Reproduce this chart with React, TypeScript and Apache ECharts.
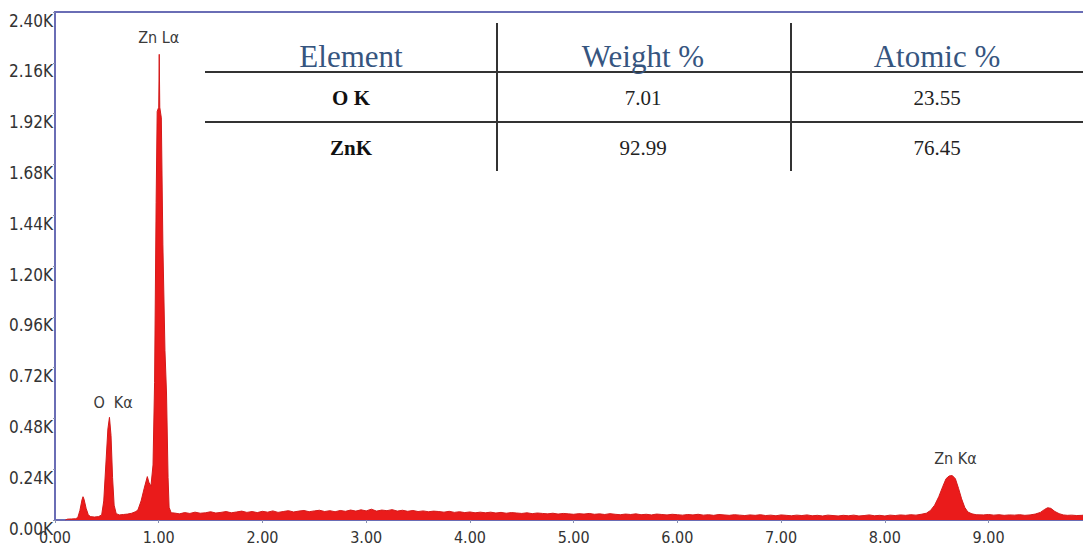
import React, { useEffect, useRef } from "react";
import * as echarts from "echarts";

// ---- Data ----
// [energy keV, counts]
const lowEnergySpectrum: [number, number][] = [
  [0.1, 0], [0.12, 4], [0.16, 5], [0.2, 6], [0.22, 12], [0.24, 45], [0.26, 95], [0.27, 110], [0.28, 98],
  [0.3, 55], [0.32, 26], [0.34, 16], [0.38, 14], [0.42, 16], [0.45, 24], [0.47, 90], [0.49, 260],
  [0.51, 430], [0.525, 485], [0.54, 400], [0.555, 200], [0.57, 70], [0.59, 30], [0.62, 24], [0.66, 26],
  [0.7, 28], [0.74, 32], [0.78, 40], [0.8, 48], [0.83, 90], [0.86, 150], [0.89, 205], [0.905, 178],
  [0.925, 160], [0.945, 260], [0.96, 650], [0.975, 1500], [0.985, 1930], [1.0, 1950], [1.005, 2200],
  [1.01, 1950], [1.025, 1900], [1.04, 1300], [1.06, 800], [1.075, 600], [1.09, 200], [1.1, 60], [1.12, 34],
];

const backgroundSpectrum: [number, number][] = [
  [1.15, 33], [1.2, 29], [1.25, 35], [1.3, 31], [1.35, 37], [1.4, 32], [1.45, 34], [1.5, 39], [1.55, 33],
  [1.6, 36], [1.65, 40], [1.7, 34], [1.75, 38], [1.8, 42], [1.85, 36], [1.9, 40], [1.95, 35], [2.0, 41],
  [2.05, 37], [2.1, 43], [2.15, 36], [2.2, 40], [2.25, 44], [2.3, 38], [2.35, 42], [2.4, 45], [2.45, 39],
  [2.5, 43], [2.55, 46], [2.6, 40], [2.65, 44], [2.7, 39], [2.75, 45], [2.8, 41], [2.85, 47], [2.9, 42],
  [2.95, 48], [3.0, 43], [3.05, 51], [3.1, 42], [3.15, 47], [3.2, 44], [3.25, 49], [3.3, 42], [3.35, 46],
  [3.4, 41], [3.45, 45], [3.5, 40], [3.55, 43], [3.6, 39], [3.65, 42], [3.7, 40], [3.75, 37], [3.8, 41],
  [3.85, 36], [3.9, 39], [3.95, 35], [4.0, 38], [4.05, 34], [4.1, 37], [4.15, 34], [4.2, 37], [4.25, 33],
  [4.3, 36], [4.35, 32], [4.4, 35], [4.45, 33], [4.5, 31], [4.55, 34], [4.6, 30], [4.65, 33], [4.7, 31],
  [4.75, 29], [4.8, 32], [4.85, 28], [4.9, 31], [4.95, 29], [5.0, 27], [5.05, 30], [5.1, 28], [5.15, 31],
  [5.2, 27], [5.25, 29], [5.3, 26], [5.35, 30], [5.4, 27], [5.45, 25], [5.5, 28], [5.55, 26], [5.6, 29],
  [5.65, 25], [5.7, 27], [5.75, 24], [5.8, 28], [5.85, 26], [5.9, 24], [5.95, 27], [6.0, 25], [6.05, 23],
  [6.1, 26], [6.15, 24], [6.2, 27], [6.25, 23], [6.3, 25], [6.35, 22], [6.4, 26], [6.45, 24], [6.5, 22],
  [6.55, 25], [6.6, 23], [6.65, 21], [6.7, 24], [6.75, 22], [6.8, 25], [6.85, 21], [6.9, 23], [6.95, 20],
  [7.0, 24], [7.05, 22], [7.1, 20], [7.15, 23], [7.2, 21], [7.25, 24], [7.3, 20], [7.35, 22], [7.4, 19],
  [7.45, 23], [7.5, 21], [7.55, 19], [7.6, 22], [7.65, 20], [7.7, 23], [7.75, 19], [7.8, 21], [7.85, 24],
  [7.9, 20], [7.95, 22], [8.0, 19], [8.05, 23], [8.1, 21], [8.15, 24], [8.2, 22], [8.25, 25], [8.3, 23],
  [8.35, 27], [8.4, 32],
];

const highEnergySpectrum: [number, number][] = [
  [8.44, 45], [8.48, 70], [8.52, 110], [8.56, 160], [8.59, 195], [8.62, 208], [8.65, 210], [8.68, 195],
  [8.71, 150], [8.74, 100], [8.77, 60], [8.8, 38], [8.84, 29], [8.88, 25], [8.95, 24], [9.0, 26],
  [9.05, 23], [9.1, 25], [9.15, 22], [9.2, 24], [9.25, 23], [9.3, 25], [9.35, 22], [9.4, 24], [9.45, 28],
  [9.5, 36], [9.54, 50], [9.57, 58], [9.6, 55], [9.64, 40], [9.68, 30], [9.72, 24], [9.76, 22], [9.8, 23],
  [9.85, 21], [9.9, 22], [9.92, 23],
];

const peakLabels = ["Zn Lα", "O  Kα", "Zn Kα"];
const peakLabelCoords: [number, number][] = [[1.0, 2280], [0.56, 555], [8.68, 292]];

const xTicks = { min: 0, max: 9.92, interval: 1 };
const yTicks = { min: 0, max: 2400, interval: 240 };

const tableHeaders = ["Element", "Weight %", "Atomic %"];
const tableElements = ["O K", "ZnK"];
const weightPct = ["7.01", "92.99"];
const atomicPct = ["23.55", "76.45"];

const spectrum = [...lowEnergySpectrum, ...backgroundSpectrum, ...highEnergySpectrum];

const axisFont = "'Liberation Sans Narrow','DejaVu Sans Condensed','Liberation Sans',Arial,sans-serif";
const serifFont = "'Liberation Serif','Times New Roman',serif";
const frameColor = "#6a6db5";

function buildTable(): any[] {
  const colCenters = [351, 643, 937];
  const rowY = [98, 148];
  const els: any[] = [];
  const lineStyle = { stroke: "#333", lineWidth: 2 };
  els.push({ type: "line", shape: { x1: 205, y1: 72, x2: 1083, y2: 72 }, style: lineStyle, silent: true });
  els.push({ type: "line", shape: { x1: 205, y1: 122, x2: 1083, y2: 122 }, style: lineStyle, silent: true });
  els.push({ type: "line", shape: { x1: 497, y1: 23, x2: 497, y2: 171 }, style: lineStyle, silent: true });
  els.push({ type: "line", shape: { x1: 791, y1: 23, x2: 791, y2: 171 }, style: lineStyle, silent: true });
  tableHeaders.forEach((h, i) => {
    els.push({
      type: "text", x: colCenters[i], y: 56, silent: true,
      style: { text: h, fill: "#36557f", font: `31px ${serifFont}`, align: "center", verticalAlign: "middle" },
    });
  });
  tableElements.forEach((e, r) => {
    els.push({
      type: "text", x: colCenters[0], y: rowY[r], silent: true,
      style: { text: e, fill: "#111", font: `bold 21px ${serifFont}`, align: "center", verticalAlign: "middle" },
    });
    els.push({
      type: "text", x: colCenters[1], y: rowY[r], silent: true,
      style: { text: weightPct[r], fill: "#222", font: `21px ${serifFont}`, align: "center", verticalAlign: "middle" },
    });
    els.push({
      type: "text", x: colCenters[2], y: rowY[r], silent: true,
      style: { text: atomicPct[r], fill: "#222", font: `21px ${serifFont}`, align: "center", verticalAlign: "middle" },
    });
  });
  return els;
}

export default function App() {
  const ref = useRef<HTMLDivElement>(null);
  useEffect(() => {
    const chart = echarts.init(ref.current!, null, { renderer: "svg" });
    const option: any = {
      animation: false,
      backgroundColor: "#ffffff",
      grid: {
        left: 55, top: 12, width: 1029, bottom: 28,
        show: true, borderColor: frameColor, borderWidth: 2, backgroundColor: "transparent",
        outerBoundsMode: "none", containLabel: false,
      },
      xAxis: {
        type: "value",
        min: xTicks.min, max: xTicks.max, interval: xTicks.interval,
        axisLine: { show: true, lineStyle: { color: frameColor, width: 2 } },
        axisTick: { show: true, length: 3, lineStyle: { color: "#8890b0" } },
        splitLine: { show: false },
        axisLabel: {
          color: "#333", fontSize: 16, fontFamily: axisFont, margin: 9,
          formatter: (v: number) => (Math.abs(v - Math.round(v)) < 1e-6 ? v.toFixed(2) : ""),
        },
      },
      yAxis: {
        type: "value",
        min: yTicks.min, max: yTicks.max, interval: yTicks.interval,
        axisLine: { show: true, lineStyle: { color: frameColor, width: 2 } },
        axisTick: { show: true, length: 2, lineStyle: { color: "#8890b0" } },
        splitLine: { show: false },
        axisLabel: {
          color: "#333", fontSize: 17, fontFamily: axisFont, margin: 2, verticalAlign: "top",
          formatter: (v: number) => (v / 1000).toFixed(2) + "K",
        },
      },
      series: [
        {
          type: "line",
          data: spectrum,
          showSymbol: false,
          symbol: "none",
          silent: true,
          lineStyle: { color: "#d41a1a", width: 1 },
          areaStyle: { color: "#ea1b1b", opacity: 1 },
          markPoint: {
            symbol: "circle",
            symbolSize: 1,
            itemStyle: { color: "transparent" },
            label: {
              show: true, position: "inside", formatter: "{b}",
              color: "#3a3a3a", fontSize: 16, fontFamily: axisFont,
            },
            data: peakLabels.map((name, i) => ({ name, coord: peakLabelCoords[i] })),
          },
        },
      ],
      graphic: buildTable(),
    };
    chart.setOption(option);
    return () => chart.dispose();
  }, []);
  return (
    <div
      ref={ref}
      style={{ position: "fixed", left: 0, top: 0, width: 1083, height: 548, background: "#fff" }}
    />
  );
}
